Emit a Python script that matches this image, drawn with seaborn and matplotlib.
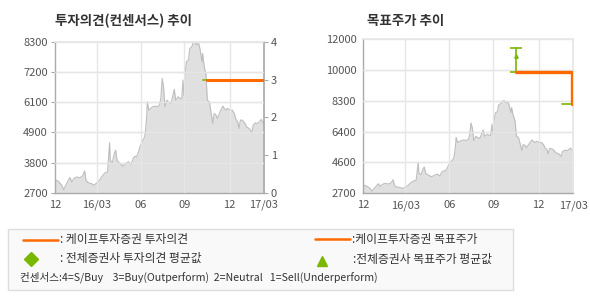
import matplotlib
matplotlib.use("Agg")
import matplotlib.pyplot as plt
import seaborn as sns
import pandas as pd
from matplotlib.lines import Line2D
from matplotlib.patches import Rectangle

# ---------------- data ----------------
day_idx = [0, 5, 10, 13, 16, 20, 22, 25, 28, 32, 37, 41, 44, 46, 49, 54, 58, 62, 66, 69,
           74, 78, 81, 82, 85, 88, 90, 92, 96, 101, 105, 109, 113, 116, 119, 121, 124, 126,
           129, 132, 134, 136, 137, 139, 142, 145, 148, 152, 155, 157, 159, 161, 163, 166,
           168, 172, 175, 177, 179, 183, 185, 188, 190, 191, 193, 195, 198, 200, 203, 205,
           208, 210, 213, 215, 218, 219, 221, 224, 226, 229, 231, 234, 236, 239, 241, 244,
           246, 249, 251, 254, 256, 260, 263, 266, 268, 271, 273, 275, 278, 282, 284, 288,
           290, 292, 294, 297, 300, 303, 306, 308, 310]
price = [3190, 3130, 2985, 2820, 2985, 3170, 3270, 3110, 3230, 3290, 3255, 3330, 3515, 3170,
         3080, 3045, 2985, 3070, 3170, 3290, 3440, 3480, 4555, 3910, 3810, 4160, 4280, 3910,
         3790, 3690, 3790, 3850, 3750, 3975, 4060, 4035, 4220, 4405, 4590, 4715, 4900, 5520,
         6075, 5765, 5830, 5890, 5915, 5890, 5950, 6200, 6940, 6630, 5890, 6135, 6075, 6010,
         6320, 6530, 6135, 6260, 6200, 6200, 6880, 6300, 7125, 7560, 7620, 8050, 8115, 8260,
         8300, 8175, 8240, 8050, 7560, 7870, 7435, 7065, 6135, 6075, 5765, 5270, 5640, 5580,
         5455, 5640, 5765, 5915, 5830, 5765, 5830, 5765, 5765, 5640, 5455, 5330, 5085, 5395,
         5395, 5270, 5150, 5085, 5025, 4925, 5210, 5295, 5270, 5330, 5420, 5330, 5245]

x_tick_pos = [0, 62, 127, 192, 259, 310]
x_tick_labels = ["12", "16/03", "06", "09", "12", "17/03"]

# investment opinion (right axis 0-4)
rating_days = [226, 308]
rating_vals = [3, 3]
cons_rating_days = [219, 226]
cons_rating_vals = [3, 3]

# target price
target_days = [226, 308, 308]
target_vals = [10000, 10000, 8100]
cons_target_days = [226, 226]
cons_target_vals = [10000, 11500]
cons_target_mark_day = [226]
cons_target_mark_val = [11000]
cons_target_last_days = [293, 308]
cons_target_last_vals = [8100, 8100]

left_y_ticks = ["2700", "3800", "4900", "6100", "7200", "8300"]
right_y_ticks = ["2700", "4600", "6400", "8300", "10000", "12000"]

# ---------------- style ----------------
sns.set_theme(style="white")
plt.rcParams["font.family"] = ["Noto Sans CJK KR", "DejaVu Sans"]

ORANGE = "#ff6a00"
GREEN = "#7ab800"
GRID = "#e6e6e6"
SPINE = "#aaaaaa"
TXT = "#555555"
FILL = "#e0e0e0"
EDGE = "#bdbdbd"

df = pd.DataFrame({"day": day_idx, "price": price})

fig = plt.figure(figsize=(5.9, 3.0), dpi=100)
fig.patch.set_facecolor("white")


def fx(px):
    return px / 590


def fy(py):
    return 1 - py / 300


def base_axes(ax, ymin, ymax, labels):
    ax.set_facecolor("white")
    ax.fill_between(df["day"], df["price"], ymin, color=FILL, lw=0, zorder=1)
    sns.lineplot(data=df, x="day", y="price", ax=ax, color=EDGE, lw=0.8, zorder=2)
    ax.set_xlim(0, 310)
    ax.set_ylim(ymin, ymax)
    ticks = [ymin + (ymax - ymin) * k / 5 for k in range(6)]
    ax.set_yticks(ticks)
    ax.set_yticklabels(labels)
    ax.set_xticks(x_tick_pos)
    ax.set_xticklabels(x_tick_labels)
    ax.set_xlabel("")
    ax.set_ylabel("")
    for t in ticks:
        ax.axhline(t, color=GRID, lw=1, zorder=0.5)
    for t in x_tick_pos[1:-1]:
        ax.axvline(t, color=GRID, lw=1, zorder=3)
    for t in ticks[1:-1]:
        ax.axhline(t, color=GRID, lw=1, zorder=3, alpha=0.9)
    ax.tick_params(axis="both", colors=TXT, labelsize=8, length=3, width=0.8,
                   color=SPINE, pad=2)
    for s in ["left", "bottom"]:
        ax.spines[s].set_color(SPINE)
        ax.spines[s].set_linewidth(1)
    ax.spines["top"].set_color(GRID)
    ax.spines["right"].set_color(GRID)
    ax.grid(False)


# ---- left chart ----
ax1 = fig.add_axes([0.0932, 0.357, 0.3542, 0.504])
base_axes(ax1, 2700, 8300, left_y_ticks)
ax1.spines["right"].set_color(SPINE)
ax1r = ax1.twinx()
ax1r.set_ylim(0, 4)
ax1r.set_yticks([0, 1, 2, 3, 4])
ax1r.set_yticklabels(["0", "1", "2", "3", "4"])
ax1r.tick_params(axis="y", colors=TXT, labelsize=8, length=3, width=0.8,
                 color=SPINE, pad=2)
for s in ax1r.spines.values():
    s.set_visible(False)
ax1r.grid(False)
sns.lineplot(x=cons_rating_days, y=cons_rating_vals, ax=ax1r, color=GREEN, lw=1.2,
             estimator=None)
sns.lineplot(x=rating_days, y=rating_vals, ax=ax1r, color=ORANGE, lw=2.2,
             estimator=None)
ax1r.set_xlim(0, 310)
ax1r.set_ylabel("")
fig.text(fx(55), fy(21), "투자의견(컨센서스) 추이", fontsize=9.7, fontweight="bold",
         color="#333333", va="center", ha="left")

# ---- right chart ----
ax2 = fig.add_axes([0.6158, 0.356, 0.3559, 0.513])
base_axes(ax2, 2700, 12000, right_y_ticks)
sns.lineplot(x=cons_target_days, y=cons_target_vals, ax=ax2, color=GREEN, lw=1.2,
             zorder=5, estimator=None, sort=False)
ax2.errorbar(cons_target_mark_day, [10750], yerr=[[750], [750]], fmt="none",
             ecolor=GREEN, capsize=4, elinewidth=0, capthick=1.2, zorder=5)
ax2.plot(cons_target_mark_day, cons_target_mark_val, marker="^", ms=2.5,
         color=GREEN, zorder=5)
sns.lineplot(x=cons_target_last_days, y=cons_target_last_vals, ax=ax2, color=GREEN,
             lw=1.2, zorder=5, estimator=None)
sns.lineplot(x=target_days, y=target_vals, ax=ax2, color=ORANGE, lw=2.4, zorder=6,
             sort=False, estimator=None)
ax2.set_xlabel("")
ax2.set_ylabel("")
fig.text(fx(367), fy(21), "목표주가 추이", fontsize=9.7, fontweight="bold",
         color="#333333", va="center", ha="left")

# ---- legend box ----
fig.patches.append(Rectangle((7.5 / 590, 1 - 289.5 / 300), 505.5 / 590, 61 / 300,
                             transform=fig.transFigure, facecolor="#f9f9f9",
                             edgecolor="#dddddd", lw=1, zorder=0))

lsize = 8.5
fig.add_artist(Line2D([fx(22.7), fx(58.3)], [fy(240), fy(240)], color=ORANGE, lw=1.8))
fig.text(fx(60), fy(240), ": 케이프투자증권 투자의견", fontsize=lsize, color="#333333",
         va="center")
fig.add_artist(Line2D([fx(30.7)], [fy(258.5)], marker="D", ms=7, color=GREEN, lw=0))
fig.text(fx(60), fy(258.5), ": 전체증권사 투자의견 평균값", fontsize=lsize,
         color="#333333", va="center")
fig.text(fx(20.5), fy(277), "컨센서스:4=S/Buy    3=Buy(Outperform)  2=Neutral   1=Sell(Underperform)",
         fontsize=7.6, color="#333333", va="center")
fig.add_artist(Line2D([fx(315), fx(350)], [fy(239), fy(239)], color=ORANGE, lw=1.8))
fig.text(fx(351.5), fy(239.5), ":케이프투자증권 목표주가", fontsize=lsize,
         color="#333333", va="center")
fig.add_artist(Line2D([fx(321.7)], [fy(260.5)], marker="^", ms=7, color=GREEN, lw=0))
fig.text(fx(353), fy(259), ":전체증권사 목표주가 평균값", fontsize=lsize,
         color="#333333", va="center")

fig.savefig("out.png", dpi=100, facecolor="white")
